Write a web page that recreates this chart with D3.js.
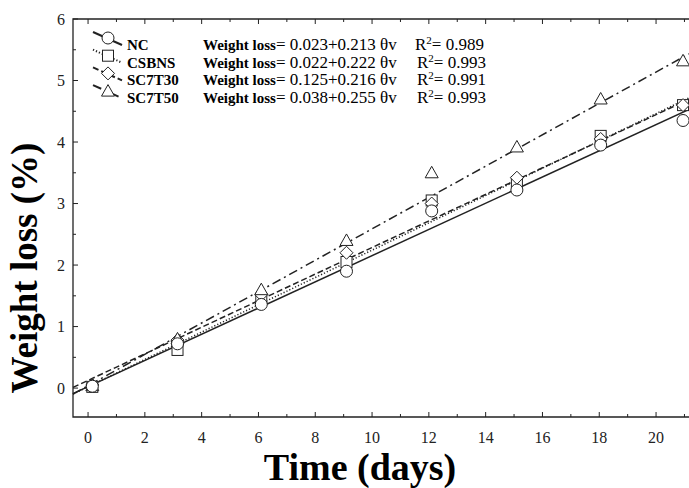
<!DOCTYPE html>
<html>
<head>
<meta charset="utf-8">
<script src="https://cdn.jsdelivr.net/npm/d3@7"></script>
<style>
  body { margin: 0; background: #fff; }
</style>
</head>
<body>
<div id="chart"></div>
<script>
// sampling days (points sit slightly right of the integer day)
const days = [0.15, 3.15, 6.1, 9.1, 12.1, 15.1, 18.05, 20.95];

const series = ["NC", "CSBNS", "SC7T30", "SC7T50"];
const ncValues     = [0.03, 0.72, 1.36, 1.90, 2.88, 3.22, 3.95, 4.35];
const csbnsValues  = [0.02, 0.62, 1.45, 2.05, 3.05, 3.35, 4.10, 4.60];
const sc7t30Values = [0.05, 0.78, 1.52, 2.20, 3.00, 3.42, 4.05, 4.60];
const sc7t50Values = [0.04, 0.80, 1.60, 2.40, 3.50, 3.92, 4.70, 5.32];

// fitted lines: weight loss = a + b * t
const intercepts = [0.023, 0.022, 0.125, 0.038];
const slopes     = [0.213, 0.222, 0.216, 0.255];
const rSquared   = ["0.989", "0.993", "0.991", "0.993"];

const xTicks = [0, 2, 4, 6, 8, 10, 12, 14, 16, 18, 20];
const yTicks = [0, 1, 2, 3, 4, 5, 6];

const W = 689, H = 488;
const svg = d3.select("#chart").append("svg")
  .attr("width", W).attr("height", H)
  .attr("font-family", "'Liberation Serif', 'Times New Roman', serif");

const x = d3.scaleLinear().domain([-0.53, 21.16]).range([73, 689]);
const y = d3.scaleLinear().domain([-0.47, 6]).range([417, 19]);

const ink = "#222";
const dashes = [null, "1.2,2", "6,3", "9,4,2,4"];
const values = [ncValues, csbnsValues, sc7t30Values, sc7t50Values];

// frame
svg.append("path")
  .attr("d", `M${x.range()[1]},${y(6)}H${x(-0.53)}V${y(-0.47)}H${x.range()[1]}`)
  .attr("fill", "none").attr("stroke", ink).attr("stroke-width", 1.3);

// ticks (inside)
let xt = svg.append("g");
d3.range(0, 22, 1).forEach(v => {
  let len = v % 2 === 0 ? 5 : 3;
  xt.append("line").attr("x1", x(v)).attr("x2", x(v))
    .attr("y1", y(-0.47)).attr("y2", y(-0.47) - len).attr("stroke", ink);
  xt.append("line").attr("x1", x(v)).attr("x2", x(v))
    .attr("y1", y(6)).attr("y2", y(6) + len).attr("stroke", ink);
});
d3.range(0, 6.01, 0.5).forEach(v => {
  let len = v % 1 === 0 ? 5 : 3;
  xt.append("line").attr("x1", x(-0.53)).attr("x2", x(-0.53) + len)
    .attr("y1", y(v)).attr("y2", y(v)).attr("stroke", ink);
});

// tick labels
svg.append("g").selectAll("text").data(xTicks).join("text")
  .attr("x", d => x(d)).attr("y", 443)
  .attr("text-anchor", "middle").attr("font-size", 16).attr("fill", ink)
  .text(d => d);
svg.append("g").selectAll("text").data(yTicks).join("text")
  .attr("x", 65).attr("y", d => y(d) + 5.5)
  .attr("text-anchor", "end").attr("font-size", 16).attr("fill", ink)
  .text(d => d);

// axis titles
svg.append("text").attr("x", 360).attr("y", 480)
  .attr("text-anchor", "middle").attr("font-size", 38).attr("font-weight", "bold")
  .text("Time (days)");
svg.append("text").attr("transform", "translate(37,268) rotate(-90)")
  .attr("text-anchor", "middle").attr("font-size", 37).attr("font-weight", "bold")
  .text("Weight loss (%)");

// fitted lines
const plot = svg.append("g");
const xs = [-0.53, 21.16];
series.forEach((s, i) => {
  let line = d3.line().x(d => x(d)).y(d => y(intercepts[i] + slopes[i] * d));
  plot.append("path").attr("d", line(xs))
    .attr("fill", "none").attr("stroke", ink).attr("stroke-width", 1.5)
    .attr("stroke-dasharray", dashes[i]);
});

// markers
const drawMarker = (g, type, cx, cy) => {
  let m;
  if (type === 0) m = g.append("circle").attr("cx", cx).attr("cy", cy).attr("r", 6);
  else if (type === 1) m = g.append("rect").attr("x", cx - 5.5).attr("y", cy - 5.5).attr("width", 11).attr("height", 11);
  else if (type === 2) m = g.append("path").attr("d", `M${cx},${cy - 6.5}L${cx + 6.5},${cy}L${cx},${cy + 6.5}L${cx - 6.5},${cy}Z`);
  else m = g.append("path").attr("d", `M${cx},${cy - 6.5}L${cx + 6.5},${cy + 5}L${cx - 6.5},${cy + 5}Z`);
  m.attr("fill", "#fff").attr("stroke", ink).attr("stroke-width", 1);
};
[1, 2, 3, 0].forEach(i => {
  days.forEach((d, j) => drawMarker(plot, i, x(d), y(values[i][j])));
});

// legend
const legend = svg.append("g");
series.forEach((s, i) => {
  let by = 50 + i * 17.7;
  legend.append("line").attr("x1", 93).attr("y1", by - 18).attr("x2", 122).attr("y2", by - 5)
    .attr("stroke", ink).attr("stroke-width", 2).attr("stroke-dasharray", dashes[i]);
  drawMarker(legend, i, 108, by - 12);
  legend.append("text").attr("x", 127).attr("y", by)
    .attr("font-size", 15).attr("font-weight", "bold").text(s);
  let eq = legend.append("text").attr("x", 203).attr("y", by).attr("font-size", 17);
  eq.append("tspan").attr("font-weight", "bold").attr("font-size", 15).text("Weight loss");
  eq.append("tspan").text(`= ${intercepts[i].toFixed(3)}+${slopes[i].toFixed(3)} θv`);
  let r = legend.append("text").attr("x", i === 0 ? 415 : 417).attr("y", by).attr("font-size", 17);
  r.append("tspan").text("R");
  r.append("tspan").attr("font-size", 11).attr("dy", -6).text("2");
  r.append("tspan").attr("dy", 6).text(`= ${rSquared[i]}`);
});
</script>
</body>
</html>
